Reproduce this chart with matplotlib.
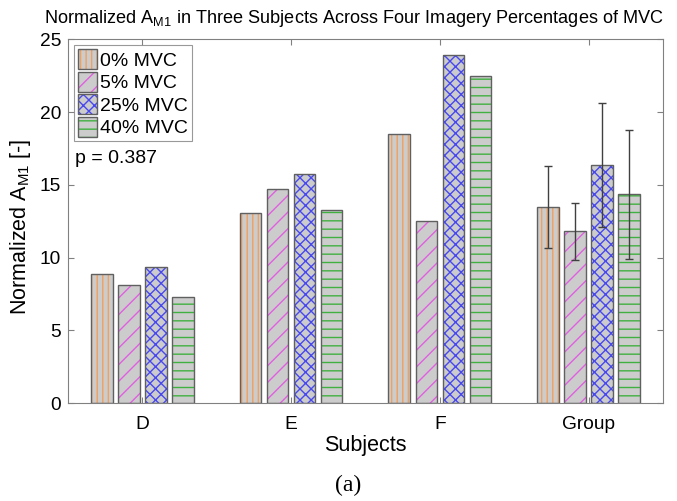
import numpy as np
import matplotlib
matplotlib.use('Agg')
import matplotlib.pyplot as plt
from matplotlib.patches import Patch

plt.rcParams['font.family'] = ['Liberation Sans', 'DejaVu Sans']
plt.rcParams['mathtext.fontset'] = 'custom'
plt.rcParams['mathtext.rm'] = 'Liberation Sans'
plt.rcParams['mathtext.it'] = 'Liberation Sans'
plt.rcParams['hatch.linewidth'] = 1.0

subjects = ['D', 'E', 'F', 'Group']
levels = ['0% MVC', '5% MVC', '25% MVC', '40% MVC']
vals_0 = [8.9, 13.06, 18.47, 13.47]
vals_5 = [8.13, 14.7, 12.51, 11.8]
vals_25 = [9.36, 15.75, 23.95, 16.35]
vals_40 = [7.26, 13.27, 22.49, 14.36]
group_err = [2.8, 1.97, 4.26, 4.44]

series = [vals_0, vals_5, vals_25, vals_40]
hatch_cols = ['#f0a060', '#e060e0', '#4848f0', '#40b040']
hatches = ['|||', '//', 'xxx', '--']
offsets = [-0.273, -0.091, 0.091, 0.273]
width = 0.145
face = '#cccccc'
edge = '#606060'

fig = plt.figure(figsize=(6.77, 5.01), dpi=100)
ax = fig.add_axes([0.1004, 0.1956, 0.8789, 0.7256])

x = np.arange(1, len(subjects) + 1)
handles = []
for i, vals in enumerate(series):
    xs = x + offsets[i]
    # hatch layer, then outline on top
    ax.bar(xs, vals, width, color=face, edgecolor=hatch_cols[i], hatch=hatches[i],
           linewidth=0, zorder=2)
    ax.bar(xs, vals, width, color='none', edgecolor=edge, linewidth=1.0, zorder=3)
    handles.append((Patch(facecolor=face, edgecolor=hatch_cols[i], hatch=hatches[i], linewidth=0),
                    Patch(facecolor='none', edgecolor=edge, linewidth=1.0)))
    ax.errorbar(x[-1] + offsets[i], vals[-1], yerr=group_err[i], fmt='none',
                ecolor='#404040', elinewidth=1.0, capsize=3, capthick=1.0, zorder=4)

ax.set_xlim(0.5, 4.5)
ax.set_ylim(0, 25)
ax.set_xticks(x)
ax.set_xticklabels(subjects)
ax.set_yticks([0, 5, 10, 15, 20, 25])
ax.tick_params(direction='in', top=True, right=True, labelsize=13.8, length=4,
               color='#808080', width=0.8)
ax.tick_params(axis='x', pad=9)
ax.tick_params(axis='y', pad=5)
for s in ax.spines.values():
    s.set_color('#808080')
    s.set_linewidth(0.8)

ax.set_xlabel('Subjects', fontsize=15.5, labelpad=2)
ax.set_ylabel(r'Normalized A$_{\mathrm{M1}}$ [-]', fontsize=15.5)
ax.yaxis.set_label_coords(-0.058, 0.485)
ax.set_title(r'Normalized A$_{\mathrm{M1}}$ in Three Subjects Across Four Imagery Percentages of MVC',
             fontsize=13.1, pad=12, x=0.481)

leg = ax.legend(handles, levels, loc='upper left', fontsize=14, frameon=True, fancybox=False,
                edgecolor='#808080', borderpad=0.2, labelspacing=0.1, handlelength=1.0,
                handleheight=1.2, handletextpad=0.15, borderaxespad=0.3)
leg.get_frame().set_linewidth(0.8)

ax.text(0.012, 0.672, 'p = 0.387', transform=ax.transAxes, fontsize=14, va='center', ha='left')

fig.text(0.514, 0.032, '(a)', family='Liberation Serif', fontsize=17, ha='center', va='center')

fig.savefig('out.png', dpi=100)
